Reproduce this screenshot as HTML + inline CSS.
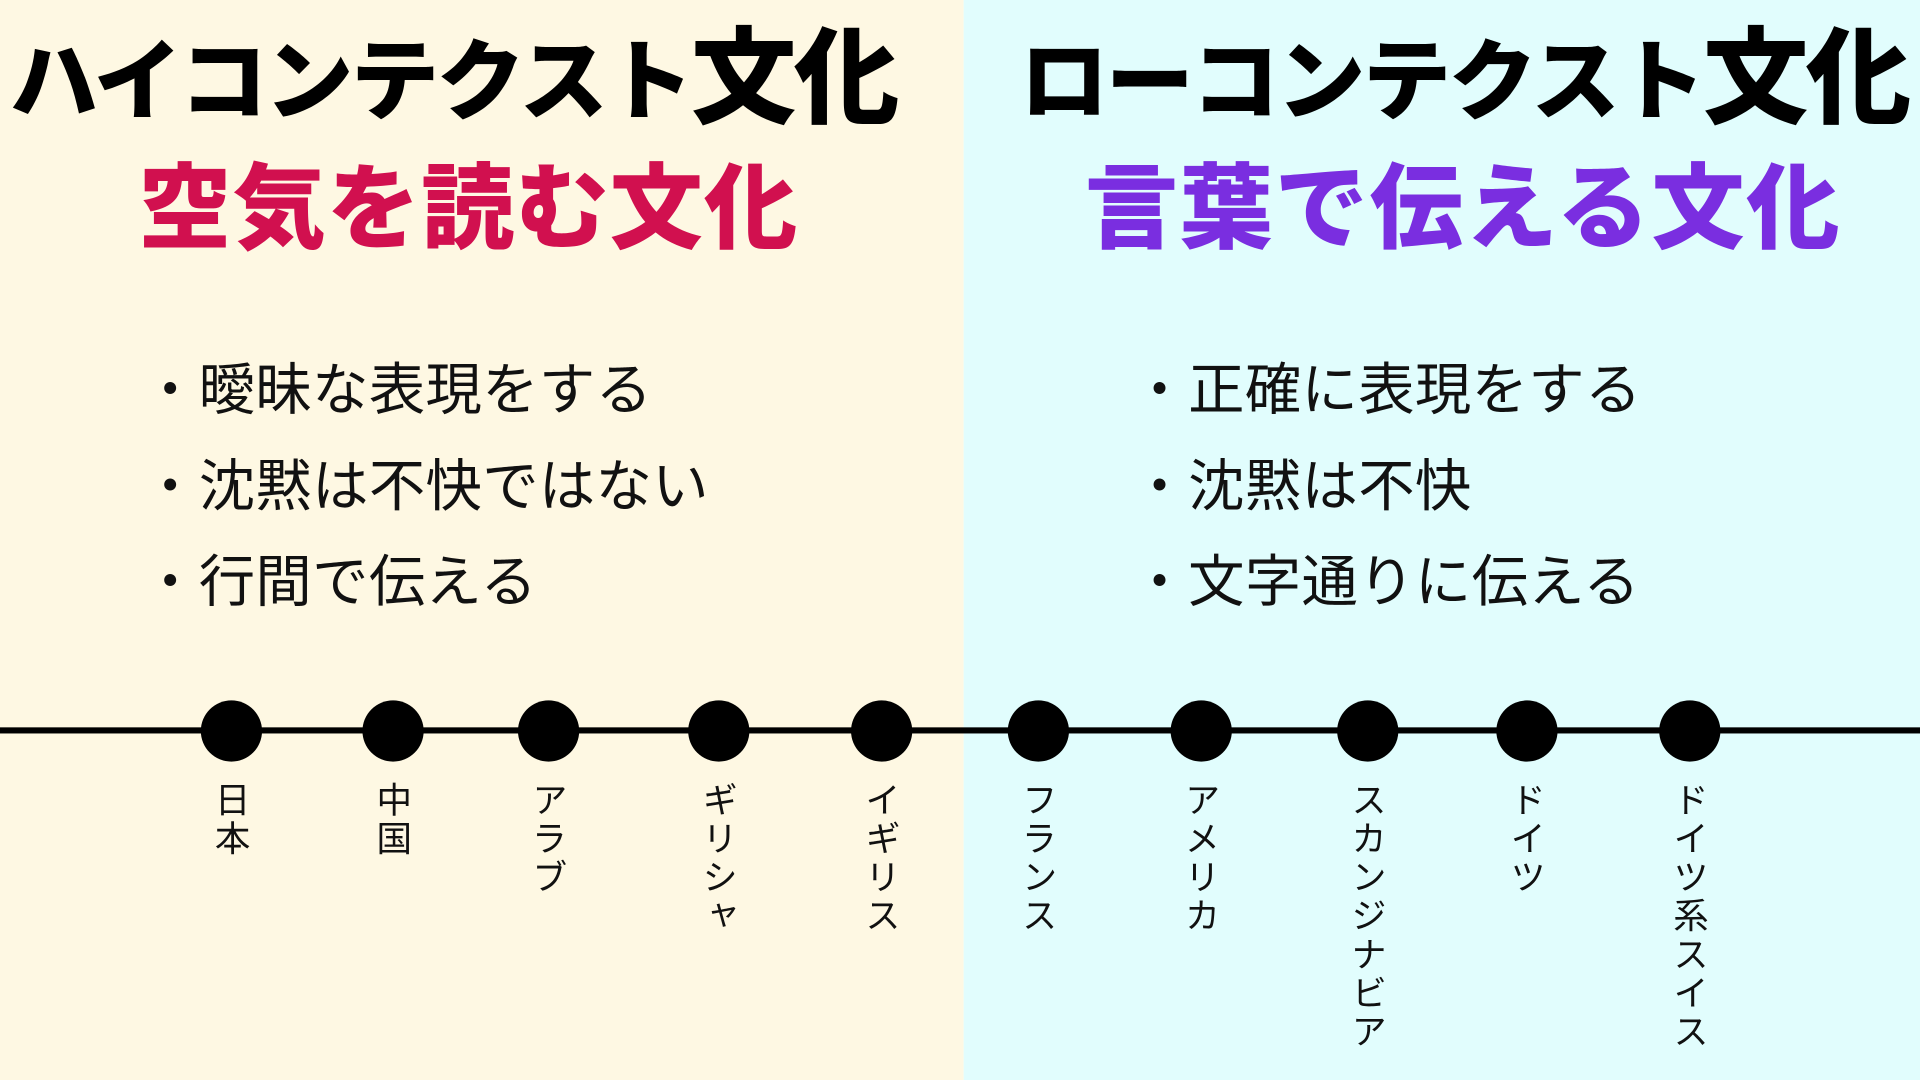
<!DOCTYPE html>
<html><head><meta charset="utf-8"><style>
html,body{margin:0;padding:0;width:1920px;height:1080px;overflow:hidden}
#w{position:absolute;left:0;top:0;width:1568px;height:882px;transform:scale(1.22449);transform-origin:0 0;font-family:"Liberation Sans","Noto Sans CJK JP",sans-serif}
.l{position:absolute;left:0;top:0;width:787px;height:882px;background:#fef8e3}
.r{position:absolute;left:787px;top:0;width:781px;height:882px;background:#e1fdfd}
.t{position:absolute;white-space:nowrap;font-weight:900;line-height:1}
.b{position:absolute;white-space:nowrap;font-size:46px;line-height:1;color:#111;letter-spacing:0.3px}
.line{position:absolute;left:0;top:594px;width:1568px;height:5px;background:#000}
.c{position:absolute;width:50px;height:50px;border-radius:50%;background:#000;top:572px}
.v{position:absolute;top:638px;writing-mode:vertical-rl;font-size:29px;line-height:1;color:#111;letter-spacing:2.5px}
</style></head><body><div id="w">
<div class="l"></div><div class="r"></div>
<div class="t" style="left:8px;top:22px;font-size:72px;letter-spacing:-2px">ハイコンテクスト<span style="font-size:86px;vertical-align:-2px">文化</span></div>
<div class="t" style="left:833px;top:22px;font-size:72px;letter-spacing:-2px">ローコンテクスト<span style="font-size:86px;vertical-align:-2px">文化</span></div>
<div class="t" style="left:113px;top:134px;font-size:76px;color:#d1104f;letter-spacing:1px">空気を読む文化</div>
<div class="t" style="left:886px;top:134px;font-size:76px;color:#7a2ee0;letter-spacing:1.5px">言葉で伝える文化</div>
<div class="b" style="left:116px;top:295px">・曖昧な表現をする</div>
<div class="b" style="left:116px;top:374px">・沈黙は不快ではない</div>
<div class="b" style="left:116px;top:452px">・行間で伝える</div>
<div class="b" style="left:924px;top:295px">・正確に表現をする</div>
<div class="b" style="left:924px;top:374px">・沈黙は不快</div>
<div class="b" style="left:924px;top:452px">・文字通りに伝える</div>
<div class="line"></div>
<div class="c" style="left:164px"></div><div class="c" style="left:296px"></div><div class="c" style="left:423px"></div><div class="c" style="left:562px"></div><div class="c" style="left:695px"></div><div class="c" style="left:823px"></div><div class="c" style="left:956px"></div><div class="c" style="left:1092px"></div><div class="c" style="left:1222px"></div><div class="c" style="left:1355px"></div>
<div class="v" style="left:172px">日本</div>
<div class="v" style="left:304px">中国</div>
<div class="v" style="left:431px">アラブ</div>
<div class="v" style="left:570px">ギリシャ</div>
<div class="v" style="left:703px">イギリス</div>
<div class="v" style="left:831px">フランス</div>
<div class="v" style="left:964px">アメリカ</div>
<div class="v" style="left:1100px">スカンジナビア</div>
<div class="v" style="left:1230px">ドイツ</div>
<div class="v" style="left:1363px">ドイツ系スイス</div>
</div></body></html>
